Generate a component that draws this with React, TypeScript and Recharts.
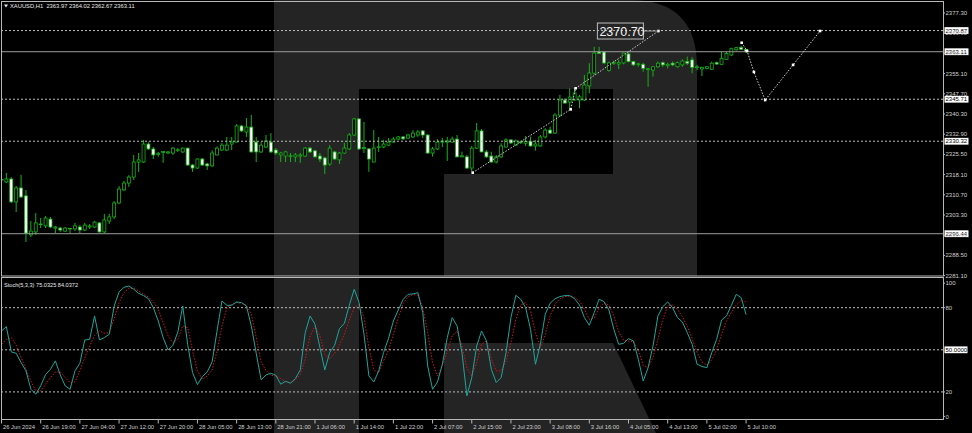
import React from "react";
import { ComposedChart, Bar, Line, XAxis, YAxis, ReferenceLine } from "recharts";

// XAUUSD H1 candles, one value per bar (26 Jun 11:00 .. 5 Jul 10:00)
const opens = [
  2316.1, 2315.4, 2316.5, 2308.1, 2313.2, 2310.3, 2296.0, 2297.1, 2299.8, 2299.3,
  2301.8, 2298.5, 2298.5, 2297.4, 2298.4, 2298.2, 2298.9, 2297.8, 2298.9, 2298.9,
  2300.4, 2297.1, 2301.1, 2302.6, 2307.7, 2312.5, 2315.0, 2317.2, 2322.7, 2322.7,
  2329.3, 2327.5, 2325.5, 2326.2, 2326.0, 2326.0, 2327.0, 2326.4, 2327.8, 2321.6,
  2320.5, 2323.8, 2322.0, 2321.3, 2325.3, 2327.1, 2327.1, 2329.3, 2330.0, 2335.9,
  2333.7, 2335.5, 2330.0, 2326.4, 2328.2, 2330.0, 2327.1, 2325.3, 2324.9, 2324.8,
  2324.6, 2324.9, 2324.9, 2327.8, 2326.8, 2324.9, 2324.2, 2322.0, 2326.4, 2323.5,
  2326.0, 2327.5, 2332.6, 2338.5, 2327.6, 2327.5, 2322.7, 2328.0, 2328.2, 2328.9,
  2330.0, 2331.1, 2331.9, 2331.5, 2331.9, 2332.6, 2334.1, 2332.6, 2326.0, 2327.5,
  2330.0, 2330.0, 2330.0, 2331.1, 2324.6, 2324.6, 2320.5, 2327.8, 2334.1, 2326.4,
  2324.9, 2322.7, 2324.6, 2328.2, 2330.8, 2328.9, 2329.8, 2329.6, 2330.2, 2328.6,
  2328.6, 2331.9, 2334.4, 2333.3, 2339.9, 2345.4, 2344.7, 2345.4, 2345.4, 2345.4,
  2350.6, 2355.3, 2363.0, 2363.0, 2356.2, 2358.9, 2358.6, 2359.0, 2362.3, 2359.5,
  2358.5, 2358.5, 2356.6, 2356.4, 2357.6, 2359.1, 2358.0, 2358.9, 2357.6, 2358.3,
  2359.5, 2360.1, 2357.3, 2356.8, 2357.0, 2356.7, 2359.1, 2358.5, 2360.3, 2361.9,
  2363.8, 2364.7, 2363.97,
];
const highs = [
  2318.3, 2318.7, 2317.2, 2313.9, 2318.0, 2312.5, 2301.1, 2304.0, 2302.2, 2302.9,
  2302.6, 2299.3, 2298.9, 2298.9, 2298.5, 2300.4, 2299.6, 2300.4, 2300.0, 2301.1,
  2300.7, 2303.7, 2303.7, 2308.4, 2313.9, 2315.8, 2317.9, 2325.3, 2326.0, 2330.8,
  2330.0, 2328.2, 2326.4, 2326.8, 2326.8, 2328.2, 2327.8, 2328.0, 2328.0, 2322.0,
  2324.0, 2324.2, 2322.4, 2327.0, 2328.4, 2329.7, 2331.9, 2331.9, 2336.6, 2336.3,
  2338.8, 2339.9, 2331.9, 2330.0, 2332.6, 2333.3, 2327.8, 2326.4, 2326.8, 2326.0,
  2326.0, 2326.0, 2328.2, 2328.2, 2327.1, 2326.0, 2324.6, 2328.9, 2326.8, 2326.4,
  2329.7, 2333.3, 2338.8, 2338.6, 2337.4, 2327.8, 2334.4, 2331.9, 2330.8, 2331.5,
  2331.9, 2332.2, 2332.2, 2333.0, 2334.4, 2334.4, 2334.4, 2333.0, 2328.2, 2331.1,
  2331.5, 2331.9, 2332.0, 2332.6, 2326.5, 2325.3, 2328.6, 2337.0, 2334.8, 2327.1,
  2326.5, 2325.3, 2329.6, 2331.4, 2331.1, 2331.0, 2330.5, 2332.2, 2332.0, 2330.8,
  2332.6, 2335.1, 2335.7, 2340.6, 2347.3, 2346.1, 2349.7, 2349.7, 2347.3, 2354.6,
  2358.9, 2364.9, 2364.9, 2363.4, 2359.5, 2359.8, 2360.1, 2362.8, 2362.8, 2359.8,
  2359.1, 2359.1, 2357.2, 2357.9, 2359.5, 2359.5, 2359.1, 2359.5, 2359.5, 2360.3,
  2361.3, 2361.1, 2358.3, 2357.6, 2357.9, 2359.5, 2359.5, 2363.1, 2363.1, 2364.6,
  2364.9, 2365.2, 2364.02,
];
const lows = [
  2312.8, 2315.0, 2307.7, 2304.4, 2309.5, 2293.4, 2295.2, 2296.0, 2298.5, 2298.5,
  2298.5, 2296.7, 2297.1, 2297.1, 2296.7, 2297.4, 2296.7, 2297.4, 2298.2, 2298.5,
  2296.9, 2296.7, 2300.0, 2301.8, 2307.3, 2312.1, 2313.6, 2316.1, 2319.1, 2322.4,
  2327.1, 2323.8, 2324.6, 2322.4, 2325.7, 2325.3, 2326.4, 2326.0, 2321.4, 2319.1,
  2320.2, 2321.3, 2319.8, 2320.9, 2325.1, 2326.7, 2326.7, 2327.1, 2329.9, 2333.7,
  2331.9, 2326.2, 2322.7, 2326.0, 2327.8, 2326.0, 2325.3, 2322.7, 2322.7, 2322.7,
  2322.7, 2322.4, 2324.6, 2326.0, 2324.4, 2322.7, 2318.3, 2321.3, 2323.5, 2322.0,
  2325.7, 2327.1, 2332.2, 2327.1, 2326.0, 2319.1, 2322.6, 2326.4, 2327.8, 2328.6,
  2329.9, 2330.8, 2330.8, 2331.1, 2331.5, 2331.9, 2331.5, 2325.7, 2324.7, 2327.1,
  2328.2, 2323.1, 2329.8, 2324.4, 2324.4, 2320.2, 2319.2, 2327.5, 2326.3, 2324.2,
  2322.5, 2322.2, 2324.2, 2328.0, 2329.3, 2328.6, 2329.3, 2328.6, 2328.3, 2326.9,
  2328.3, 2331.4, 2333.0, 2333.0, 2339.3, 2344.2, 2341.8, 2345.2, 2342.4, 2345.1,
  2347.9, 2354.6, 2362.3, 2358.6, 2355.8, 2358.3, 2356.7, 2358.5, 2359.2, 2357.9,
  2357.6, 2355.8, 2350.3, 2354.0, 2357.3, 2357.6, 2357.0, 2357.9, 2357.3, 2357.6,
  2358.3, 2355.2, 2356.4, 2354.2, 2356.7, 2356.4, 2358.3, 2358.3, 2360.1, 2361.6,
  2363.5, 2363.8, 2362.67,
];
const closes = [
  2316.3, 2316.5, 2308.1, 2313.2, 2309.9, 2296.7, 2297.4, 2300.4, 2300.0, 2302.2,
  2298.9, 2298.9, 2297.8, 2298.5, 2298.3, 2299.3, 2297.8, 2299.6, 2299.3, 2300.7,
  2297.1, 2301.5, 2302.6, 2307.7, 2312.8, 2315.0, 2317.2, 2322.7, 2323.5, 2329.3,
  2327.5, 2325.3, 2325.9, 2326.6, 2326.4, 2327.8, 2327.2, 2327.8, 2321.6, 2320.5,
  2323.8, 2321.6, 2321.3, 2326.0, 2327.8, 2328.9, 2328.9, 2330.0, 2335.9, 2334.1,
  2335.5, 2326.4, 2326.4, 2328.9, 2330.4, 2326.4, 2326.0, 2326.0, 2326.4, 2325.0,
  2325.3, 2325.3, 2327.8, 2326.4, 2324.6, 2323.8, 2321.6, 2327.8, 2323.8, 2326.0,
  2327.8, 2332.6, 2338.5, 2327.5, 2328.0, 2323.8, 2327.8, 2328.3, 2329.3, 2330.0,
  2331.1, 2331.9, 2331.2, 2332.6, 2333.3, 2333.7, 2332.6, 2326.0, 2327.5, 2330.0,
  2330.4, 2330.4, 2331.1, 2324.6, 2325.0, 2320.5, 2327.8, 2334.1, 2326.4, 2324.6,
  2322.7, 2324.6, 2328.6, 2330.8, 2329.7, 2330.4, 2330.0, 2330.2, 2328.6, 2329.3,
  2331.9, 2334.4, 2333.3, 2339.9, 2345.4, 2344.3, 2346.5, 2348.0, 2346.6, 2350.9,
  2355.3, 2362.6, 2362.5, 2359.0, 2359.0, 2359.1, 2359.1, 2362.6, 2359.5, 2358.3,
  2358.7, 2357.0, 2356.9, 2357.6, 2358.9, 2358.3, 2358.5, 2358.3, 2359.1, 2359.7,
  2358.9, 2357.4, 2357.6, 2357.4, 2357.6, 2358.9, 2358.6, 2360.7, 2362.5, 2364.2,
  2364.6, 2364.0, 2363.11,
];

// Stochastic(5,3,3): main line and signal line
const stochMain = [
  63.4, 66.5, 48.5, 47.5, 40.9, 35.0, 21.9, 18.4, 24.3, 32.4, 36.1, 42.1, 32.1, 24.3, 21.9, 35.0,
  40.4, 57.0, 57.5, 74.1, 57.0, 58.7, 61.1, 81.2, 91.2, 94.5, 95.4, 93.1, 90.2, 88.6, 86.4, 80.0,
  70.5, 58.7, 49.9, 53.2, 62.7, 81.2, 53.9, 33.8, 25.2, 30.9, 34.2, 41.4, 63.4, 84.8, 81.7, 81.7,
  84.1, 83.6, 81.2, 67.0, 47.5, 28.6, 32.1, 33.3, 31.9, 25.5, 27.6, 26.2, 29.5, 35.7, 62.2, 74.1,
  68.2, 51.6, 35.7, 48.0, 53.2, 65.1, 68.9, 81.7, 93.1, 83.6, 61.1, 31.4, 27.1, 35.0, 48.0, 58.0,
  70.5, 78.4, 85.9, 89.5, 89.8, 90.7, 76.5, 38.5, 21.9, 27.1, 39.7, 58.7, 72.9, 67.0, 48.0, 17.2,
  30.2, 52.7, 63.4, 56.3, 36.1, 26.7, 30.2, 48.0, 72.9, 88.8, 86.0, 80.0, 64.6, 39.7, 53.9, 75.3,
  83.1, 86.4, 87.9, 88.6, 88.6, 86.4, 81.9, 72.9, 67.5, 76.5, 86.0, 84.3, 78.4, 64.6, 53.9, 54.6,
  58.0, 56.3, 43.3, 27.8, 37.3, 52.7, 74.1, 80.7, 84.1, 80.0, 72.9, 69.8, 62.2, 53.9, 39.7, 38.1,
  37.3, 48.0, 57.5, 71.2, 74.1, 81.7, 89.5, 87.1, 75.03,
];
const stochSignal = [
  53.9, 57.5, 58.7, 53.2, 44.5, 36.1, 27.8, 20.7, 20.7, 25.5, 30.2, 34.2, 34.2, 30.2, 26.7, 27.1,
  35.0, 44.5, 52.7, 60.3, 63.4, 61.8, 62.2, 72.2, 83.6, 90.7, 93.8, 93.8, 91.9, 89.5, 87.6, 84.1,
  78.8, 69.4, 59.9, 55.1, 57.5, 67.0, 65.8, 49.2, 35.0, 29.0, 31.4, 35.7, 49.2, 67.0, 80.0, 82.4,
  83.6, 83.1, 81.7, 75.3, 58.7, 40.9, 35.4, 31.9, 31.4, 29.5, 27.1, 26.7, 28.6, 32.6, 43.3, 59.9,
  67.0, 59.9, 46.8, 43.5, 47.5, 53.5, 61.1, 71.2, 79.6, 82.2, 72.9, 51.6, 35.7, 33.8, 42.1, 49.9,
  61.1, 72.9, 82.9, 87.9, 89.3, 89.0, 80.0, 62.2, 40.9, 31.4, 38.5, 49.2, 59.9, 63.4, 52.7, 37.3,
  31.4, 40.9, 53.9, 56.3, 43.3, 35.0, 35.0, 42.1, 55.1, 71.7, 81.9, 83.6, 77.7, 62.2, 51.6, 61.1,
  74.1, 82.4, 86.4, 87.9, 88.3, 87.4, 84.8, 78.8, 71.7, 72.7, 80.0, 83.4, 81.7, 74.1, 62.7, 56.8,
  56.3, 55.6, 49.9, 39.0, 37.3, 44.5, 57.5, 71.7, 81.2, 81.9, 78.8, 73.6, 66.5, 58.0, 48.0, 41.4,
  39.0, 42.8, 50.4, 61.1, 70.5, 76.9, 81.9, 85.2, 84.04,
];

// time axis: bar index of each label and its text
const timeTickIdx = [0, 8, 16, 24, 32, 40, 48, 56, 64, 72, 80, 88, 96, 104, 112, 120, 128, 136, 144, 152];
const timeLabels = [
  "26 Jun 2024", "26 Jun 19:00", "27 Jun 04:00", "27 Jun 12:00", "27 Jun 20:00", "28 Jun 05:00",
  "28 Jun 13:00", "28 Jun 21:00", "1 Jul 06:00", "1 Jul 14:00", "1 Jul 22:00", "2 Jul 07:00",
  "2 Jul 15:00", "2 Jul 23:00", "3 Jul 08:00", "3 Jul 16:00", "4 Jul 05:00", "4 Jul 13:00",
  "5 Jul 02:00", "5 Jul 10:00",
];

const priceTicks = [2377.3, 2369.9, 2362.5, 2355.1, 2347.7, 2340.3, 2332.9, 2325.5, 2318.1, 2310.7, 2303.3, 2295.9, 2288.5, 2281.1];
const solidLevels = [2363.11, 2296.44];
const dottedLevels = [2370.87, 2345.71, 2330.32];
const stochTicks = [0, 20, 80, 100];
const stochLevels = [80, 50, 20];

// analyst's projection paths (bar position, price)
const waveUpIdx = [96.2, 116.2, 117.2, 134.1];
const waveUpPrice = [2318.8, 2342.0, 2349.7, 2370.7];
const waveNextIdx = [151.1, 152.2, 153.6, 155.9, 161.6, 167.1];
const waveNextPrice = [2366.4, 2363.4, 2355.7, 2345.4, 2358.3, 2370.7];

const candles = opens.map((o, i) => ({
  i,
  o,
  h: highs[i],
  l: lows[i],
  c: closes[i],
  range: [lows[i], highs[i]],
}));
const stoch = stochMain.map((k, i) => ({ i, k, d: stochSignal[i] }));
const waveUp = waveUpIdx.map((i, n) => ({ i, p: waveUpPrice[n], tag: n === waveUpIdx.length - 1 }));
const waveNext = waveNextIdx.map((i, n) => ({ i, p: waveNextPrice[n] }));

const GREEN = "#17b317";
const AXIS = "#b8b8b8";
const FONT = "'Liberation Sans', Arial, sans-serif";
const X_DOMAIN: [number, number] = [0, 192.2];

const Candle = (props: any) => {
  const { x, y, width, height, payload } = props;
  const { o, h, l, c } = payload;
  const top = Math.min(y, y + height);
  const hgt = Math.abs(height);
  const cx = x + width / 2;
  const py = (p: number) => top + ((h - p) / (h - l || 1)) * hgt;
  const bTop = py(Math.max(o, c));
  const bBot = py(Math.min(o, c));
  const bull = c >= o;
  return (
    <g>
      <line x1={cx} x2={cx} y1={top} y2={top + hgt} stroke={GREEN} strokeWidth={1} />
      <rect
        x={cx - 1.5}
        y={bTop}
        width={3}
        height={Math.max(bBot - bTop, 0.6)}
        fill={bull ? "#000" : "#fff"}
        stroke={GREEN}
        strokeWidth={0.8}
      />
    </g>
  );
};

const PriceTick = (props: any) => {
  const { x, y, payload } = props;
  return (
    <g>
      <line x1={x} x2={x + 2} y1={y} y2={y} stroke={AXIS} />
      <text x={x + 2.5} y={y + 2.1} fontSize={6} fill="#cfcfcf" fontFamily={FONT}>
        {payload.value.toFixed(2)}
      </text>
    </g>
  );
};

const StochTick = (props: any) => {
  const { x, y, payload } = props;
  const v = payload.value;
  const dy = v === 100 ? 3.6 : v === 0 ? -3.6 : 0;
  return (
    <g>
      <line x1={x} x2={x + 2} y1={y + dy} y2={y + dy} stroke={AXIS} />
      <text x={x + 2.5} y={y + dy + 2.1} fontSize={6} fill="#cfcfcf" fontFamily={FONT}>
        {v}
      </text>
    </g>
  );
};

const TimeTick = (props: any) => {
  const { x, y, payload } = props;
  const label = timeLabels[timeTickIdx.indexOf(payload.value)];
  return (
    <g>
      <line x1={x} x2={x} y1={y} y2={y + 3.5} stroke={AXIS} />
      <text x={x + 1.5} y={y + 9} fontSize={5.8} fill="#cfcfcf" fontFamily={FONT}>
        {label}
      </text>
    </g>
  );
};

// white tag on the price scale for a level line
const LevelTag = (props: any) => {
  const { viewBox, text, w = 24 } = props;
  const x = viewBox.x + viewBox.width + 1.5;
  const y = viewBox.y;
  return (
    <g>
      <rect x={x} y={y - 3.4} width={w} height={6.8} fill="#fff" />
      <text x={x + 1} y={y + 2.1} fontSize={6} fill="#000" fontFamily={FONT}>
        {text}
      </text>
    </g>
  );
};

const WaveDot = (props: any) => {
  const { cx, cy, payload, index } = props;
  if (payload.tag) {
    return (
      <g key={`wd-${index}`}>
        <rect x={cx - 1.3} y={cy - 1.3} width={2.6} height={2.6} fill="#fff" />
        <line x1={cx - 15} x2={cx} y1={cy} y2={cy} stroke="#9a9a9a" />
        <rect x={cx - 61} y={cy - 8} width={46} height={16} fill="none" stroke="#bdbdbd" />
        <text x={cx - 59} y={cy + 5} fontSize={12.5} fill="#f0f0f0" fontFamily={FONT}>
          {payload.p.toFixed(2)}
        </text>
      </g>
    );
  }
  return <rect key={`wd-${index}`} x={cx - 1.3} y={cy - 1.3} width={2.6} height={2.6} fill="#fff" />;
};

export default function App() {
  return (
    <div style={{ position: "absolute", left: 0, top: 0, width: 972, height: 433, background: "#000", overflow: "hidden" }}>
      {/* broker logo watermark behind the chart */}
      <svg width={972} height={433} style={{ position: "absolute", left: 0, top: 0 }}>
        <path
          d="M274,0 H630 Q697,0 697,67 V276 H274 Z M359,89 H613 V174 H444 V276 H359 Z"
          fill="#242424"
          fillRule="evenodd"
        />
        <rect x={274} y={277} width={85} height={156} fill="#242424" />
        <path d="M444,343 H613 L656,433 H444 Z" fill="#242424" />
      </svg>

      <div style={{ position: "absolute", left: 0, top: 0 }}>
        <ComposedChart width={972} height={278} data={candles} margin={{ top: 2, right: 0, bottom: 2, left: 1.5 }}>
          <XAxis dataKey="i" type="number" domain={X_DOMAIN} hide allowDataOverflow />
          <YAxis
            orientation="right"
            domain={[2280.95, 2381.33]}
            ticks={priceTicks}
            interval={0}
            width={29}
            tick={<PriceTick />}
            tickSize={0}
            tickMargin={0}
            axisLine={false}
            tickLine={false}
            allowDataOverflow
          />
          {solidLevels.map((v) => (
            <ReferenceLine key={v} y={v} stroke="#9c9c9c" label={<LevelTag text={v.toFixed(2)} />} />
          ))}
          {dottedLevels.map((v) => (
            <ReferenceLine key={v} y={v} stroke="#bcbcbc" strokeDasharray="2 2" label={<LevelTag text={v.toFixed(2)} />} />
          ))}
          <Bar dataKey="range" shape={<Candle />} barSize={3} isAnimationActive={false} />
          <Line
            data={waveUp}
            dataKey="p"
            stroke="#cfcfcf"
            strokeDasharray="1.5 1.5"
            strokeWidth={1}
            dot={WaveDot}
            isAnimationActive={false}
          />
          <Line
            data={waveNext}
            dataKey="p"
            stroke="#cfcfcf"
            strokeDasharray="1.5 1.5"
            strokeWidth={1}
            dot={WaveDot}
            isAnimationActive={false}
          />
        </ComposedChart>
      </div>

      <div style={{ position: "absolute", left: 0, top: 277 }}>
        <ComposedChart width={972} height={156} data={stoch} margin={{ top: 2.6, right: 0, bottom: 0, left: 1.5 }}>
          <XAxis
            dataKey="i"
            type="number"
            domain={X_DOMAIN}
            ticks={timeTickIdx}
            interval={0}
            height={13}
            tick={<TimeTick />}
            tickSize={0}
            tickMargin={0}
            axisLine={false}
            tickLine={false}
            allowDataOverflow
          />
          <YAxis
            orientation="right"
            domain={[0, 100]}
            ticks={stochTicks}
            interval={0}
            width={29}
            tick={<StochTick />}
            tickSize={0}
            tickMargin={0}
            axisLine={false}
            tickLine={false}
          />
          {stochLevels.map((v) => (
            <ReferenceLine
              key={v}
              y={v}
              stroke="#bcbcbc"
              strokeDasharray="2 2"
              label={v === 50 ? <LevelTag text="50.0000" w={23} /> : undefined}
            />
          ))}
          <Line dataKey="d" stroke="#d01818" strokeDasharray="1.5 1.5" strokeWidth={1} dot={false} isAnimationActive={false} />
          <Line dataKey="k" stroke="#1fa59c" strokeWidth={1} dot={false} isAnimationActive={false} />
        </ComposedChart>
      </div>

      {/* window frames and the MetaTrader captions */}
      <svg width={972} height={433} style={{ position: "absolute", left: 0, top: 0, pointerEvents: "none" }}>
        <rect x={1.5} y={1.5} width={942} height={274.5} fill="none" stroke={AXIS} />
        <rect x={1.5} y={277.5} width={942} height={142} fill="none" stroke={AXIS} />
        <polygon points="4,4.5 8,4.5 6,7.5" fill="#e8e8e8" />
        <text x={10} y={8} fontSize={5.8} fill="#e8e8e8" fontFamily={FONT} style={{ whiteSpace: "pre" }}>
          {"XAUUSD,H1  2363.97 2364.02 2362.67 2363.11"}
        </text>
        <text x={4} y={286.5} fontSize={5.6} fill="#e8e8e8" fontFamily={FONT}>
          Stoch(5,3,3) 75.0325 84.0372
        </text>
      </svg>
    </div>
  );
}
